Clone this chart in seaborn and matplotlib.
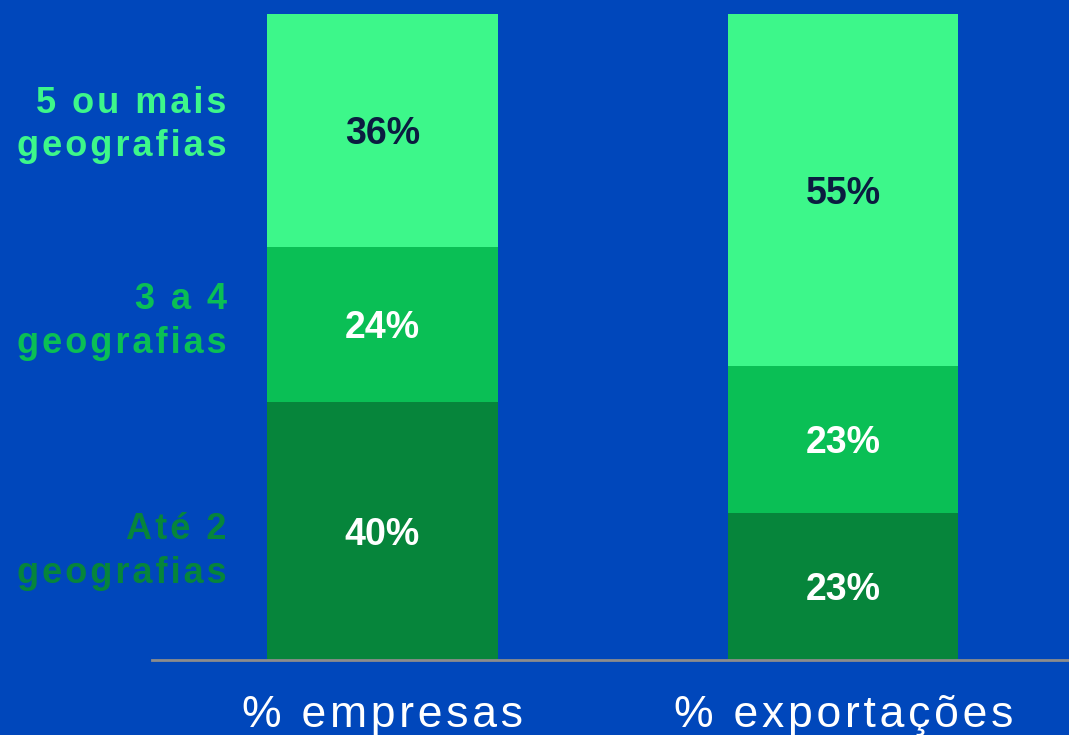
import numpy
import pandas
import matplotlib
matplotlib.use("Agg")
import matplotlib.pyplot as plt
import seaborn

# chart data
columns = ["% empresas", "% exportações"]
groups = ["Até 2\ngeografias", "3 a 4\ngeografias", "5 ou mais\ngeografias"]
ate2 = [40, 23]
tres_a_quatro = [24, 23]
cinco_ou_mais = [36, 55]

BG = "#0047BB"
colors = ["#06853B", "#0ABF55", "#3DF78A"]
value_text = ["white", "white", "#0B1C40"]


def spaced(text, gap):
    # fake letter spacing by putting a small space between characters
    lines = text.split("\n")
    return "\n".join(gap.join(list(line)) for line in lines)


seaborn.set_style("white")
plt.rcParams["font.family"] = ["Liberation Sans", "DejaVu Sans"]

values = numpy.array([ate2, tres_a_quatro, cinco_ou_mais], dtype=float)
shares = values / values.sum(axis=0) * 100
cum = numpy.cumsum(shares, axis=0)

fig = plt.figure(figsize=(10.69, 7.35), dpi=100, facecolor=BG)
ax = fig.add_axes([152 / 1069, 75 / 735, 917 / 1069, 646 / 735])
ax.set_facecolor(BG)

# stacked bars: draw the tallest cumulative layer first
for i in reversed(range(len(groups))):
    df = pandas.DataFrame({"col": columns, "val": cum[i]})
    seaborn.barplot(data=df, x="col", y="val", color=colors[i], width=0.5,
                    saturation=1, ax=ax, linewidth=0)

for j in range(len(columns)):
    for i in range(len(groups)):
        mid = cum[i, j] - shares[i, j] / 2
        ax.text(j, mid, f"{values[i, j]:.0f}%", ha="center",
                va="center_baseline", fontsize=27, fontweight="bold",
                color=value_text[i])

# category labels on the left, coloured like their segment
label_y = [16.8, 52.4, 82.8]
for i, g in enumerate(groups):
    ax.text(-0.338, label_y[i], spaced(g, "\u200a"), ha="right", va="center",
            fontsize=26, fontweight="bold", color=colors[i], linespacing=1.3)

ax.set_xlim(-0.5, 1.49)
ax.set_ylim(0, 100)
ax.set_xlabel("")
ax.set_ylabel("")
ax.set_yticks([])
ax.set_xticks(range(len(columns)))
ax.set_xticklabels([spaced(c, "\u200a") for c in columns], fontsize=32,
                   color="white")
ax.tick_params(axis="x", length=0, pad=25)

for side in ["top", "left", "right"]:
    ax.spines[side].set_visible(False)
ax.spines["bottom"].set_color("#8C8C8C")
ax.spines["bottom"].set_linewidth(2)

fig.savefig("out.png", dpi=100, facecolor=BG)
